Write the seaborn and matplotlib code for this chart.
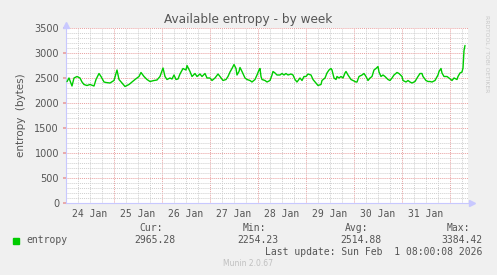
import numpy as np
import pandas as pd
import matplotlib
matplotlib.use("Agg")
import matplotlib.pyplot as plt
import matplotlib.dates as mdates
import seaborn as sns

# ---- data ----
start = pd.Timestamp("2026-01-24 00:00")
hours = [0.5, 1.5, 3, 4, 5.5, 7, 8, 9, 10.5, 12, 14, 15, 16.5, 17.5, 19, 20, 22, 24,
         25.5, 26.5, 28, 29.5, 31.5, 33, 34.5, 36.5, 37.5, 39, 40.5, 42, 44, 45.5, 47, 48.5,
         49.5, 50.5, 52, 53, 54, 55, 56, 57, 58.5, 60, 60.5, 62, 63, 64.5, 65.5, 67, 68,
         69.5, 70.5, 72, 73, 74.5, 76, 77, 78.5, 80, 81, 82, 83, 84, 85, 85.5, 86.5, 87,
         88, 89.5, 90.5, 92, 93, 94.5, 95.5, 96.5, 97, 97.5, 98, 99.5, 100.5, 102, 103,
         103.5, 104.5, 105.5, 107, 108, 109, 110, 111, 112.5, 113.5, 114.5, 115.5, 117,
         118, 119, 120, 121, 122.5, 123.5, 125, 126, 127.5, 128, 129.5, 130.5, 131.5,
         132.5, 133, 134, 135, 135.5, 136.5, 137.5, 138.5, 139.5, 140, 141, 142.5, 143.5,
         145, 145.5, 146.5, 148, 149, 150, 151, 152, 153, 154, 155, 156, 156.5, 157.5,
         158.5, 159.5, 161, 162, 163, 164, 165.5, 166.5, 168, 168.5, 170, 171, 172, 173,
         174.5, 176, 177, 178, 178.5, 180, 181, 182, 183, 184.5, 186, 186.5, 187.5, 188,
         189, 190.5, 191.5, 193, 194, 195.5, 196, 197, 198, 198.5, 199, 199.5]
entropy = [2427, 2500, 2340, 2500, 2530, 2500, 2420, 2370, 2350, 2370, 2340, 2470, 2590,
           2530, 2420, 2410, 2400, 2450, 2660, 2470, 2400, 2330, 2370, 2420, 2470, 2530,
           2610, 2530, 2470, 2430, 2450, 2460, 2530, 2700, 2530, 2470, 2500, 2480, 2560,
           2470, 2480, 2580, 2690, 2660, 2750, 2630, 2530, 2590, 2530, 2580, 2530, 2590,
           2500, 2500, 2450, 2500, 2580, 2530, 2450, 2470, 2530, 2620, 2690, 2770, 2690,
           2560, 2630, 2710, 2630, 2500, 2470, 2450, 2420, 2470, 2560, 2660, 2690, 2530,
           2470, 2450, 2420, 2450, 2560, 2630, 2600, 2560, 2560, 2590, 2560, 2590, 2560,
           2580, 2560, 2470, 2420, 2500, 2450, 2530, 2530, 2580, 2560, 2470, 2400, 2350,
           2370, 2450, 2500, 2600, 2660, 2690, 2660, 2500, 2470, 2530, 2500, 2530, 2500,
           2600, 2630, 2560, 2470, 2450, 2420, 2420, 2530, 2560, 2590, 2530, 2450, 2500,
           2530, 2660, 2690, 2730, 2620, 2530, 2560, 2530, 2470, 2450, 2500, 2560, 2610,
           2590, 2530, 2450, 2420, 2450, 2420, 2400, 2430, 2530, 2590, 2590, 2530, 2450,
           2430, 2430, 2420, 2450, 2560, 2630, 2690, 2600, 2530, 2530, 2500, 2450, 2500,
           2470, 2530, 2600, 2620, 2700, 3050, 3150]
day_fmt = "%d %b"
y_ticks = [0, 500, 1000, 1500, 2000, 2500, 3000, 3500]
stats_names = ["Cur:", "Min:", "Avg:", "Max:"]
stats_values = ["2965.28", "2254.23", "2514.88", "3384.42"]
series_name = "entropy"
title = "Available entropy - by week"
ylabel = "entropy  (bytes)"
last_update = "Last update: Sun Feb  1 08:00:08 2026"
version = "Munin 2.0.67"
watermark = "RRDTOOL / TOBI OETIKER"

df = pd.DataFrame({"time": start + pd.to_timedelta(hours, unit="h"), "entropy": entropy})

# ---- style ----
sns.set_theme(style="white")
plt.rcParams["font.family"] = ["DejaVu Sans"]
BG = "#f0f0f0"
TXT = "#555555"
AXC = "#c8c8ff"
RED = "#e8a0a0"
GRAY = "#cfcfcf"
MONO = "DejaVu Sans Mono"

fig = plt.figure(figsize=(4.97, 2.75), dpi=100, facecolor=BG)
W, H = 497, 275
ax = fig.add_axes([66 / W, (H - 203) / H, (468 - 66) / W, (203 - 28) / H])
ax.set_facecolor("white")

sns.lineplot(data=df, x="time", y="entropy", ax=ax, color="#00cc00", linewidth=1.0,
             legend=False, zorder=5)

x0 = start
x1 = start + pd.Timedelta(hours=201)
ax.set_xlim(x0, x1)
ax.set_ylim(0, 3500)

# x axis: midnights (red), 6h minor (gray), labels at noon
ax.xaxis.set_major_locator(mdates.DayLocator())
ax.xaxis.set_major_formatter(plt.NullFormatter())
ax.xaxis.set_minor_locator(mdates.HourLocator(byhour=[0, 6, 12, 18]))


def minor_fmt(x, pos):
    d = mdates.num2date(x)
    return d.strftime(day_fmt) if d.hour == 12 else ""


ax.xaxis.set_minor_formatter(plt.FuncFormatter(minor_fmt))
ax.set_yticks(y_ticks)
ax.set_yticks(np.arange(0, 3501, 100), minor=True)

ls = (0, (1, 1))
ax.grid(which="minor", axis="both", color=GRAY, linestyle=ls, linewidth=0.7, zorder=0)
ax.grid(which="major", axis="both", color=RED, linestyle=ls, linewidth=0.7, zorder=1)
ax.set_axisbelow(True)

ax.tick_params(axis="x", which="major", length=2, color=RED, pad=2)
ax.tick_params(axis="x", which="minor", length=0, pad=4, labelsize=7, labelcolor=TXT)
ax.tick_params(axis="y", which="major", length=2, color=RED, pad=3, labelsize=7,
               labelcolor=TXT, left=True)
ax.tick_params(axis="y", which="minor", length=0)
for lab in ax.xaxis.get_minorticklabels():
    lab.set_fontfamily(MONO)

for s in ["top", "right"]:
    ax.spines[s].set_visible(False)
for s in ["left", "bottom"]:
    ax.spines[s].set_color(AXC)
    ax.spines[s].set_linewidth(0.8)

# axis arrows
ax.plot([0], [1.02], marker="^", color=AXC, markersize=4, transform=ax.transAxes,
        clip_on=False)
ax.plot([1.01], [0], marker=">", color=AXC, markersize=4, transform=ax.transAxes,
        clip_on=False)

ax.set_xlabel("")
ax.set_ylabel(ylabel, color=TXT, fontsize=7.5, labelpad=6)

fig.text(248 / W, 1 - 19 / H, title, ha="center", va="center", fontsize=8.7, color=TXT)
fig.text(487 / W, 1 - 15 / H, watermark, rotation=270, ha="center", va="top",
         fontsize=4.3, color="#c8c8c8")

# legend / stats
fig.patches.append(plt.Rectangle((13 / W, 1 - 244 / H), 6 / W, 6 / H,
                                 transform=fig.transFigure, color="#00cc00"))
fig.text(26 / W, 1 - 240 / H, series_name, fontsize=7, family=MONO, color=TXT,
         va="center", ha="left")
rights = [175, 278, 381, 482]
name_rights = [163, 266, 368, 470]
for n, v, r, nr in zip(stats_names, stats_values, rights, name_rights):
    fig.text(nr / W, 1 - 228 / H, n, fontsize=7, family=MONO, color=TXT,
             va="center", ha="right")
    fig.text(r / W, 1 - 240 / H, v, fontsize=7, family=MONO, color=TXT,
             va="center", ha="right")
fig.text(482 / W, 1 - 252 / H, last_update, fontsize=7, family=MONO, color=TXT,
         va="center", ha="right")
fig.text(248 / W, 1 - 263 / H, version, fontsize=5.5, color="#c0c0c0",
         va="center", ha="center")

fig.savefig("out.png", dpi=100, facecolor=BG)
